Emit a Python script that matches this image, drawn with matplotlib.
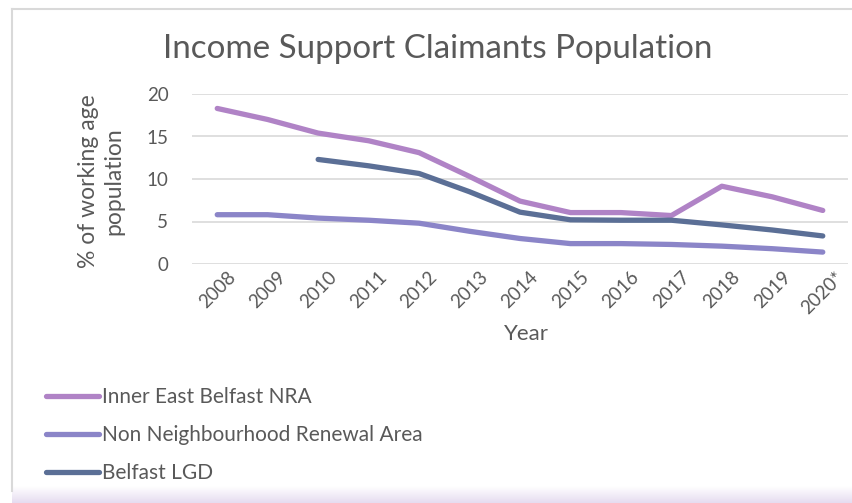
import matplotlib
matplotlib.use("Agg")
import matplotlib.pyplot as plt
import numpy as np
from matplotlib.colors import LinearSegmentedColormap

years = ["2008", "2009", "2010", "2011", "2012", "2013", "2014",
         "2015", "2016", "2017", "2018", "2019", "2020*"]
inner_east = [18.3, 17.0, 15.4, 14.5, 13.1, 10.3, 7.4, 6.05, 6.05, 5.7, 9.15, 7.9, 6.3]
non_nra = [5.8, 5.8, 5.4, 5.15, 4.8, 3.85, 3.0, 2.4, 2.4, 2.3, 2.1, 1.8, 1.4]
belfast_lgd = [np.nan, np.nan, 12.3, 11.55, 10.65, 8.5, 6.1, 5.2, 5.15, 5.15, 4.6, 4.0, 3.3]
series_names = ["Inner East Belfast NRA", "Non Neighbourhood Renewal Area", "Belfast LGD"]
yticks = [0, 5, 10, 15, 20]

colors = ["#B083C6", "#8B85C8", "#5B6F96"]
txt = "#595959"
plt.rcParams['font.family'] = ['Lato', 'DejaVu Sans']

W, H = 852, 503
fig = plt.figure(figsize=(W/100, H/100), dpi=100)
fig.patch.set_facecolor("white")

# frame & bottom shadow
bg = fig.add_axes([0, 0, 1, 1], zorder=-10)
bg.axis("off")
bg.plot([12, 12], [H - 12, 9], color="#D9D9D9", lw=1.5)
bg.plot([12, W], [9, 9], color="#D9D9D9", lw=1.5)
grad = np.linspace(0, 1, 50)[:, None]
cm = LinearSegmentedColormap.from_list("s", ["#FFFFFF", "#E6DCF0"])
bg.imshow(grad, extent=[12, W, 503, 486], aspect="auto", cmap=cm, origin="upper")
bg.set_xlim(0, W); bg.set_ylim(H, 0)

ax = fig.add_axes([192/W, 1 - 264/H, (848-192)/W, (264-94)/H])
x = np.arange(len(years))
for vals, c, name in zip([inner_east, non_nra, belfast_lgd], colors, series_names):
    ax.plot(x, vals, color=c, lw=3.8, solid_capstyle="round", label=name)
ax.set_xlim(-0.5, len(years) - 0.5)
ax.set_ylim(0, 20)
ax.set_yticks(yticks)
ax.set_yticklabels([str(v) for v in yticks], fontsize=13.5, color=txt)
ax.yaxis.grid(True, color="#D9D9D9", lw=1.2)
ax.set_axisbelow(True)
for s in ax.spines.values():
    s.set_visible(False)
ax.tick_params(axis="y", length=0, pad=17)
ax.tick_params(axis="x", length=0, pad=3)
ax.set_xticks(x)
ax.set_xticklabels(years, rotation=45, ha="center", va="top", fontsize=13.5, color=txt)
ax.set_xlabel("Year", fontsize=16, color=txt, va="center")
ax.xaxis.set_label_coords(0.51, -(334 - 264) / 170)
ax.set_ylabel("% of working age\npopulation", fontsize=16.5, color=txt, va="center",
              linespacing=1.25, ha="center")
ax.yaxis.set_label_coords(-(192 - 101) / 656, 0.49)

fig.text(438/W, 1 - 49/H, "Income Support Claimants Population", fontsize=23.9,
         color=txt, ha="center", va="center")

handles, labels = ax.get_legend_handles_labels()
leg = fig.legend(handles, labels, loc="upper left", bbox_to_anchor=(46/W, 1 - 387/H),
                 frameon=False, fontsize=15, handlelength=2.55, handletextpad=0.14,
                 labelspacing=0.86, borderaxespad=0, borderpad=0)
for t in leg.get_texts():
    t.set_color(txt)

fig.savefig("out.png", dpi=100, facecolor="white")
